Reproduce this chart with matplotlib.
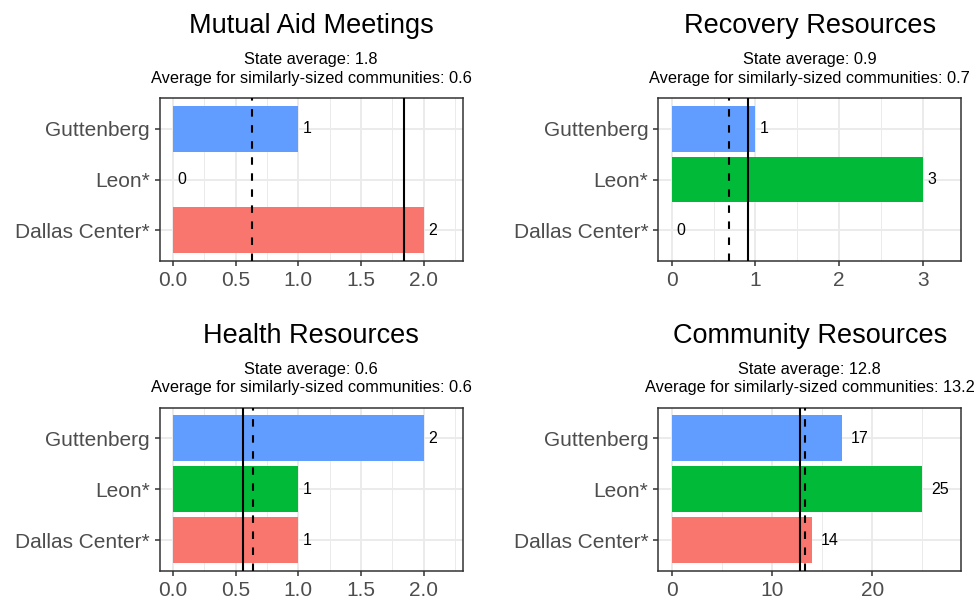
import matplotlib
matplotlib.use("Agg")
import matplotlib.pyplot as plt
import numpy as np

plt.rcParams['font.family'] = ['Liberation Sans', 'DejaVu Sans']

towns = ['Dallas Center*', 'Leon*', 'Guttenberg']
town_colors = ['#F8766D', '#00BA38', '#619CFF']

titles = ['Mutual Aid Meetings', 'Recovery Resources', 'Health Resources', 'Community Resources']
mutual_aid = [2, 0, 1]
recovery = [0, 3, 1]
health = [1, 1, 2]
community = [14, 25, 17]
state_avg = [1.84, 0.91, 0.56, 12.76]
similar_avg = [0.63, 0.69, 0.64, 13.24]

values = [mutual_aid, recovery, health, community]
xlims = [(-0.106, 2.31), (-0.16, 3.46), (-0.106, 2.31), (-1.34, 28.87)]
majors = [[0, 0.5, 1, 1.5, 2], [0, 1, 2, 3], [0, 0.5, 1, 1.5, 2], [0, 10, 20]]
minors = [[0.25, 0.75, 1.25, 1.75, 2.25], [0.5, 1.5, 2.5], [0.25, 0.75, 1.25, 1.75, 2.25], [5, 15, 25]]
ticklabels = [['0.0', '0.5', '1.0', '1.5', '2.0'], ['0', '1', '2', '3'],
              ['0.0', '0.5', '1.0', '1.5', '2.0'], ['0', '10', '20']]

W, H = 976, 602
fig = plt.figure(figsize=(W / 100, H / 100), dpi=100)

# axes boxes in pixels: left, right, top, bottom
boxes = [(159.7, 462.7, 98.3, 260.7), (658.3, 961.3, 98.3, 260.7),
         (159.7, 462.7, 407.7, 570.7), (658.3, 961.3, 407.7, 570.7)]

grid_col = '#EBEBEB'
for i in range(4):
    l, r, t, b = boxes[i]
    ax = fig.add_axes([l / W, 1 - b / H, (r - l) / W, (b - t) / H])
    ypos = np.arange(1, 4)
    ax.set_xlim(*xlims[i])
    ax.set_ylim(0.4, 3.6)
    for m in minors[i]:
        ax.axvline(m, color=grid_col, lw=0.7, zorder=0)
    for m in majors[i]:
        ax.axvline(m, color=grid_col, lw=1.4, zorder=0)
    for y in ypos:
        ax.axhline(y, color=grid_col, lw=1.4, zorder=0)
    ax.barh(ypos, values[i], height=0.9, color=town_colors, zorder=2)
    for y, v in zip(ypos, values[i]):
        s = str(v)
        ax.annotate(s, (v, y), xytext=(3.2 * len(s), 0), textcoords='offset points',
                    ha='left', va='center', fontsize=11.5, color='black', zorder=4)
    ax.axvline(state_avg[i], color='black', lw=1.5, zorder=3)
    ax.axvline(similar_avg[i], color='black', lw=1.5, ls=(0, (3.6, 4.1)), zorder=3)

    ax.set_yticks(ypos)
    ax.set_yticklabels(towns)
    ax.set_xticks(majors[i])
    ax.set_xticklabels(ticklabels[i])
    ax.tick_params(axis='both', labelsize=15, labelcolor='#4D4D4D', color='#333333',
                   length=3.6, width=1.1, pad=3.5)
    for sp in ax.spines.values():
        sp.set_color('#333333')
        sp.set_linewidth(1.1)

    cx = (l + r) / 2 / W
    fig.text(cx, 1 - (t - 65) / H, titles[i], ha='center', va='baseline', fontsize=19.5)
    fig.text(cx, 1 - (t - 34) / H, 'State average: %.1f' % state_avg[i],
             ha='center', va='baseline', fontsize=11.8)
    fig.text(cx, 1 - (t - 15.6) / H, 'Average for similarly-sized communities: %.1f' % similar_avg[i],
             ha='center', va='baseline', fontsize=11.8)

fig.savefig('out.png', dpi=100, facecolor='white')
